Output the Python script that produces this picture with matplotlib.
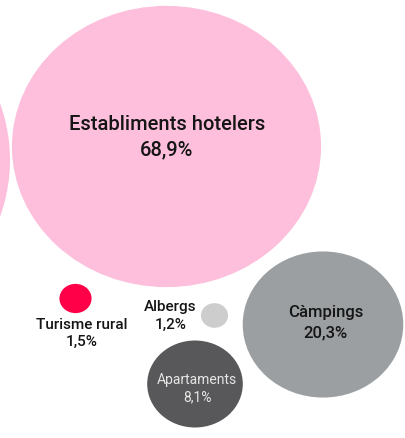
import numpy as np
import matplotlib
matplotlib.use("Agg")
import matplotlib.pyplot as plt
from matplotlib.patches import Ellipse

# allotjament turístic: quota per tipus d'establiment (%)
categories = ["Establiments hotelers", "Càmpings", "Apartaments", "Turisme rural", "Albergs"]
shares = [68.9, 20.3, 8.1, 1.5, 1.2]
labels = ["68,9%", "20,3%", "8,1%", "1,5%", "1,2%"]

# layout (pixels, origin top-left)
centers = [(166.5, 146.5), (323, 324.5), (195, 384), (75.5, 298.5), (214.5, 315.5)]
colors = ["#fdbfdb", "#9b9fa1", "#58585a", "#ff0048", "#cdcdcd"]
# label anchor: inside the bubble or beside it
text_pos = [(167, 124, 150), (326, 312, 333), (197, 380, 397), (82, 325, 342), (170.5, 307, 325)]
text_col = ["#151515", "#151515", "#e6e6e6", "#151515", "#151515"]
text_size = [14.5, 12, 10, 11, 11]
text_weight = ["medium", "medium", "normal", "medium", "medium"]

K, PAD, SQUASH = 19.57, 7.9, 0.91


def radius(v):
    return K * np.sqrt(v) - PAD


plt.rcParams["font.family"] = ["Roboto", "DejaVu Sans"]
fig = plt.figure(figsize=(4.05, 4.38), dpi=100)
ax = fig.add_axes([0, 0, 1, 1])
ax.set_xlim(0, 405)
ax.set_ylim(438, 0)
ax.set_axis_off()

# neighbouring bubble cut off at the left edge
ax.add_patch(Ellipse((-190, 160), 400, 400 * SQUASH, color="#fdbfdb", lw=0))

for cat, v, lab, (cx, cy), col, (tx, ty1, ty2), tc, fs, fw in zip(
        categories, shares, labels, centers, colors, text_pos, text_col,
        text_size, text_weight):
    r = radius(v)
    ax.add_patch(Ellipse((cx, cy), 2 * r, 2 * r * SQUASH, color=col, lw=0))
    ax.text(tx, ty1, cat, ha="center", va="center", color=tc, fontsize=fs,
            fontweight=fw)
    ax.text(tx, ty2, lab, ha="center", va="center", color=tc, fontsize=fs,
            fontweight=fw)

fig.savefig("out.png", dpi=100)
